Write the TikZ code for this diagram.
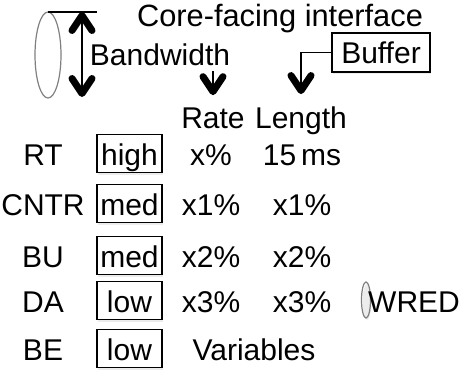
\documentclass[tikz,border=0pt]{standalone}
\usepackage{fontspec}
\setmainfont{Liberation Sans}
\usetikzlibrary{arrows.meta,shadows}
\tikzset{
  txt/.style={inner sep=0pt, anchor=base},
  levelbox/.style={draw, line width=1.2pt, fill=white, anchor=base, minimum width=65pt,
    text height=25pt, text depth=2pt, inner xsep=3pt, inner ysep=5.5pt,
    drop shadow={shadow xshift=1pt, shadow yshift=-2pt, opacity=0.15}},
  bigtip/.style={-{Straight Barb[length=15pt, width=20pt, line width=7pt, round]}, line width=1.2pt},
  bothtips/.style={{Straight Barb[length=15pt, width=20pt, line width=7pt, round]}-{Straight Barb[length=15pt, width=20pt, line width=7pt, round]}, line width=1.2pt},
  ring/.style={draw=gray, line width=1.2pt}
}

\begin{document}
\begin{tikzpicture}[x=1pt, y=-1pt, every node/.style={font=\fontsize{30}{36}\selectfont}]
\useasboundingbox (0,0) rectangle (462,380);

% Header
\node[txt, font=\fontsize{30.8}{36}\selectfont] (title) at (280,26) {Core-facing interface};
\node[txt] (bw) at (160,65) {Bandwidth};
\node[levelbox, minimum width=98pt, text height=25pt, text depth=4pt, inner ysep=5pt] (buf) at (381,63) {Buffer};
\node[txt] (rate) at (213,128) {Rate};
\node[txt] (len) at (301,128) {Length};

% Bandwidth marker
\draw[ring] (48,55) ellipse [x radius=13, y radius=43];
\draw[line width=1.2pt] (48,12) -- (97,12);
\coordinate (bwtop) at (82,12);
\coordinate (bwbot) at (82,97);
\draw[bothtips] (bwtop) -- (bwbot);

% Arrows down to the columns
\draw[bigtip] (rate.north |- bw.base) ++(0,6) -- ([yshift=12pt]rate.north);
\draw[bigtip] (buf.west) -| ([yshift=12pt]len.north);

% Classes
\foreach \name/\level/\rt/\ln/\y [count=\n] in {RT/high/x\%/15\,ms/165, CNTR/med/x1\%/x1\%/215,
    BU/med/x2\%/x2\%/267, DA/low/x3\%/x3\%/312} {
  \node[txt] (cls\n) at (43,\y) {\name};
  \node[levelbox] (lvl\n) at (129.5,\y) {\level};
  \node[txt] (rate\n) at (211,\y) {\rt};
  \node[txt] (len\n) at (302,\y) {\ln};
}
\node[txt] (cls5) at (43,360) {BE};
\node[levelbox] (lvl5) at (129.5,360) {low};
\node[txt] (var) at (254,360) {Variables};

% WRED
\draw[ring, drop shadow={shadow xshift=1pt, shadow yshift=-2pt, opacity=0.15}] (366,300) ellipse [x radius=4.5, y radius=18];
\node[txt] (wred) at (414,312) {WRED};
\end{tikzpicture}
\end{document}
